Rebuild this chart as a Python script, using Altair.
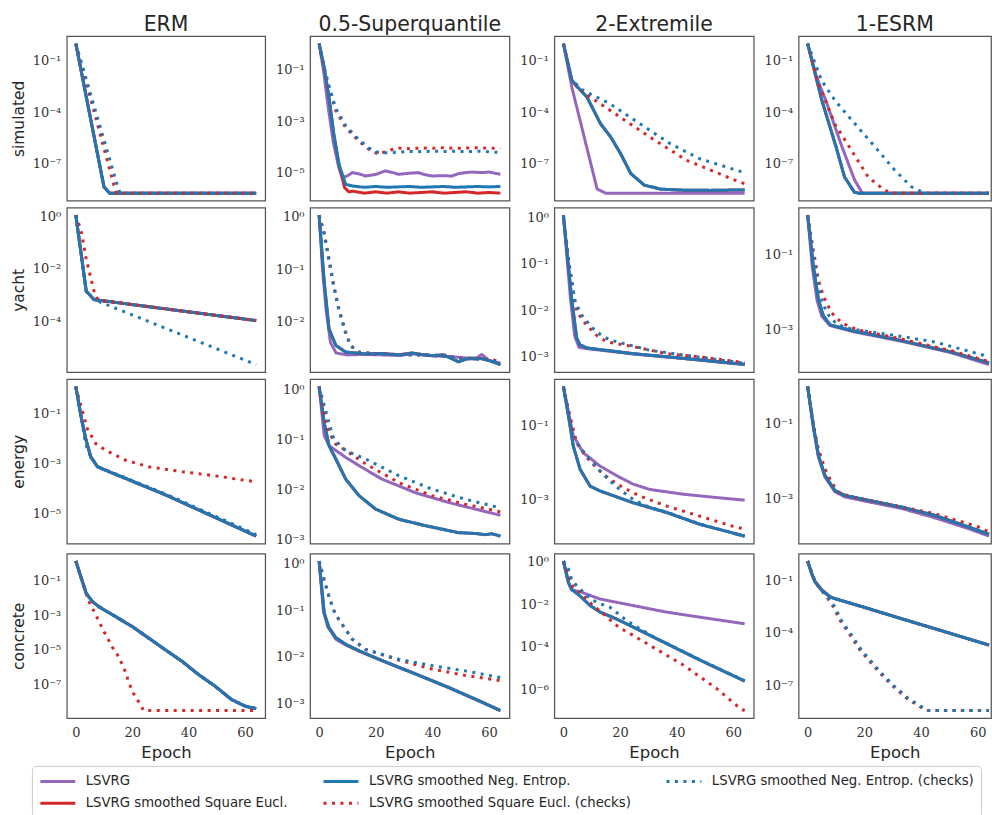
import altair as alt
import numpy as np
import pandas as pd

# ---------------- labels ----------------
COLUMN_TITLES = ["ERM", "0.5-Superquantile", "2-Extremile", "1-ESRM"]
ROW_TITLES = ["simulated", "yacht", "energy", "concrete"]

# series keys in drawing order and their legend names
DRAW_KEYS = ["lsvrg", "sq", "ne", "sq_chk", "ne_chk"]
SERIES_NAMES = {
    "lsvrg": "LSVRG",
    "sq": "LSVRG smoothed Square Eucl.",
    "ne": "LSVRG smoothed Neg. Entrop.",
    "sq_chk": "LSVRG smoothed Square Eucl. (checks)",
    "ne_chk": "LSVRG smoothed Neg. Entrop. (checks)",
}
# legend order (row-major, 3 columns)
LEGEND_ORDER = [
    "LSVRG",
    "LSVRG smoothed Neg. Entrop.",
    "LSVRG smoothed Neg. Entrop. (checks)",
    "LSVRG smoothed Square Eucl.",
    "LSVRG smoothed Square Eucl. (checks)",
]
LEGEND_COLORS = ["#9467bd", "#1f77b4", "#1f77b4", "#d62728", "#d62728"]
LEGEND_DASHES = [[1, 0], [1, 0], [3, 5.5], [1, 0], [3, 5.5]]

X_TICKS = [0, 20, 40, 60]

# ---------------- data: [epoch, suboptimality] ----------------
# simulated
sim_erm_solid = [[0, 1.0], [10, 4.6e-9], [12, 2.0e-9], [64, 2.0e-9]]
sim_erm_sq_chk = [[0, 1.0], [13.5, 5.8e-9], [14.5, 2.0e-9], [64, 2.0e-9]]
sim_erm_ne_chk = [[0, 1.0], [14.7, 5.8e-9], [15.7, 2.0e-9], [64, 2.0e-9]]
SIM_ERM = {"lsvrg": sim_erm_solid, "sq": sim_erm_solid, "ne": sim_erm_solid,
           "sq_chk": sim_erm_sq_chk, "ne_chk": sim_erm_ne_chk}

SIM_SQ = {
    "lsvrg": [[0, 1.0], [1.5, 0.1], [3, 5e-3], [5, 1.5e-4], [7, 1.5e-5], [8.2, 6.4e-6], [10, 7.5e-6],
              [11.7, 1.0e-5], [14, 9e-6], [16.4, 7.4e-6], [20, 8.5e-6], [23.4, 1.17e-5], [26, 1.0e-5],
              [28.1, 8.6e-6], [32, 9.5e-6], [35.1, 1.0e-5], [37, 8.5e-6], [39.8, 7.4e-6], [43, 7.6e-6],
              [46.9, 7.4e-6], [49, 9e-6], [51.6, 1.0e-5], [54, 1.05e-5], [57.4, 1.0e-5], [60, 1.05e-5],
              [64, 8.6e-6]],
    "sq": [[0, 1.0], [1.8, 0.115], [3.5, 7.9e-3], [5.2, 3.0e-4], [7, 2.1e-5], [9, 2.6e-6], [10.5, 1.8e-6],
           [12, 1.9e-6], [16, 1.6e-6], [20, 1.8e-6], [24, 1.6e-6], [28, 1.8e-6], [32, 1.6e-6], [36, 1.7e-6],
           [40, 1.8e-6], [44, 1.6e-6], [48, 1.7e-6], [52, 1.8e-6], [56, 1.6e-6], [60, 1.7e-6], [64, 1.6e-6]],
    "ne": [[0, 1.0], [1.8, 0.115], [3.5, 7.9e-3], [5.2, 3.0e-4], [7, 2.1e-5], [9.4, 3.5e-6], [12, 3.0e-6],
           [16, 2.7e-6], [20, 2.9e-6], [24, 2.7e-6], [28, 2.8e-6], [32, 2.9e-6], [36, 2.7e-6], [40, 2.8e-6],
           [44, 2.9e-6], [48, 2.7e-6], [52, 2.8e-6], [56, 2.9e-6], [60, 2.8e-6], [64, 2.9e-6]],
    "sq_chk": [[0, 1.0], [1.8, 0.1], [3.5, 1.95e-2], [5.9, 2.5e-3], [9.4, 5.5e-4], [14, 1.66e-4],
               [17.6, 7.9e-5], [21, 5.1e-5], [24, 7e-5], [28, 9e-5], [32, 8.5e-5], [36, 9e-5], [40, 8.8e-5],
               [44, 9.2e-5], [48, 8.7e-5], [52, 9e-5], [56, 9.2e-5], [60, 8.8e-5], [64, 9e-5]],
    "ne_chk": [[0, 1.0], [1.8, 0.12], [3.5, 2.3e-2], [5.9, 3.0e-3], [9.4, 6.5e-4], [14, 1.9e-4],
               [17.6, 9e-5], [21, 6e-5], [24, 5.9e-5], [28, 6.2e-5], [32, 6.6e-5], [36, 6.5e-5], [40, 6.8e-5],
               [44, 6.6e-5], [48, 6.8e-5], [52, 6.5e-5], [56, 6.8e-5], [60, 6.4e-5], [64, 6e-5]],
}

sim_ext_ne = [[0, 1.0], [3, 7.4e-3], [4.8, 3.2e-3], [8.3, 7.9e-4], [13.1, 2.2e-5], [16.7, 3.7e-6],
              [20.2, 4e-7], [23.8, 2.75e-8], [28.6, 5.8e-9], [34.5, 3.4e-9], [42.9, 2.95e-9], [52, 2.9e-9],
              [64, 3.1e-9]]
SIM_EXT = {
    "lsvrg": [[0, 1.0], [1.2, 0.1], [3, 2.8e-3], [11.9, 3.5e-9], [14.9, 2.0e-9], [64, 2.0e-9]],
    "sq": sim_ext_ne,
    "ne": sim_ext_ne,
    "sq_chk": [[0, 1.0], [3, 7.4e-3], [5, 2.8e-3], [9.4, 7.9e-4], [20, 5.4e-5], [30.5, 3.7e-6],
               [43.4, 1.66e-7], [62.2, 8.9e-9], [64, 7e-9]],
    "ne_chk": [[0, 1.0], [3, 7.4e-3], [7, 1.9e-3], [16.4, 3.2e-4], [27, 2.2e-5], [37.6, 1.55e-6],
               [48.1, 2.0e-7], [64, 3.1e-8]],
}

sim_esrm_ne = [[0, 1.0], [5, 5e-4], [10, 1e-6], [13, 1.74e-8], [16.5, 2.2e-9], [18, 1.95e-9], [64, 1.95e-9]]
SIM_ESRM = {
    "lsvrg": [[0, 1.0], [3, 1.26e-2], [6.4, 5e-4], [11.7, 1.5e-6], [16.6, 1.1e-8], [19.3, 1.95e-9],
              [64, 1.95e-9]],
    "sq": sim_esrm_ne,
    "ne": sim_esrm_ne,
    "sq_chk": [[0, 1.0], [3.8, 4.4e-3], [9.6, 2.1e-5], [15.5, 5.9e-7], [21.4, 1.66e-8], [27.2, 2.8e-9],
               [30.8, 1.95e-9], [64, 1.95e-9]],
    "ne_chk": [[0, 1.0], [4.9, 7.1e-3], [9.6, 5e-4], [16.6, 2.2e-5], [23.7, 1e-6], [30.7, 4.3e-8],
               [36.6, 4.6e-9], [41.3, 1.95e-9], [64, 1.95e-9]],
}

# yacht
yacht_erm_solid = [[0, 1.1], [3.7, 1.38e-3], [6.5, 6.6e-4], [64, 1.05e-4]]
YACHT_ERM = {
    "lsvrg": yacht_erm_solid, "sq": yacht_erm_solid, "ne": yacht_erm_solid,
    "sq_chk": [[0, 1.1], [1.9, 0.27], [3.6, 2.6e-2], [5.3, 4.5e-3], [6.8, 1.0e-3], [8, 6.3e-4], [64, 1.05e-4]],
    "ne_chk": [[0, 1.1], [3.7, 1.38e-3], [6.5, 6.6e-4], [64, 2.2e-6]],
}

yacht_sq_ne = [[0, 1.07], [1.8, 5.6e-2], [3.5, 7.2e-3], [5.9, 3.5e-3], [9.4, 2.6e-3], [16.4, 2.4e-3],
               [22, 2.45e-3], [28.1, 2.3e-3], [32.8, 2.5e-3], [36, 2.35e-3], [39.8, 2.24e-3], [44, 2.3e-3],
               [49.2, 1.7e-3], [53, 2.0e-3], [57.4, 1.95e-3], [60, 1.8e-3], [64, 1.5e-3]]
YACHT_SQ = {
    "lsvrg": [[0, 1.07], [1.2, 0.1], [2.5, 1.6e-2], [4, 4e-3], [6, 2.5e-3], [10, 2.3e-3], [16, 2.35e-3],
              [22, 2.3e-3], [28, 2.25e-3], [33, 2.4e-3], [40, 2.2e-3], [46, 2.15e-3], [52, 2.0e-3],
              [55, 1.9e-3], [57.4, 2.35e-3], [60, 1.8e-3], [64, 1.6e-3]],
    "sq": yacht_sq_ne,
    "ne": yacht_sq_ne,
    "sq_chk": [[0, 1.07], [1.8, 0.5], [3.5, 0.155], [5.2, 4.8e-2], [7, 1.74e-2], [9.4, 6.3e-3],
               [11.1, 3.5e-3], [14.1, 2.6e-3], [20, 2.45e-3], [28, 2.35e-3], [36, 2.3e-3], [44, 2.2e-3],
               [50, 2.0e-3], [56, 1.95e-3], [60, 1.9e-3], [64, 1.75e-3]],
    "ne_chk": [[0, 1.07], [1.8, 0.45], [3.5, 0.14], [5.2, 4.4e-2], [7, 1.6e-2], [9.4, 5.8e-3],
               [11.1, 3.4e-3], [14.1, 2.6e-3], [20, 2.4e-3], [28, 2.3e-3], [36, 2.3e-3], [44, 2.15e-3],
               [50, 1.95e-3], [56, 1.9e-3], [60, 1.85e-3], [64, 1.65e-3]],
}

yacht_ext_ne = [[0, 1.1], [2.9, 1.8e-2], [4.7, 2.5e-3], [5.9, 1.8e-3], [8.3, 1.55e-3], [24.7, 1.17e-3],
                [42.3, 9.3e-4], [64, 6.9e-4]]
YACHT_EXT = {
    "lsvrg": [[0, 1.1], [2.5, 1.8e-2], [4, 2.8e-3], [5.5, 1.6e-3], [8.3, 1.5e-3], [24.7, 1.15e-3],
              [42.3, 9.2e-4], [64, 6.8e-4]],
    "sq": yacht_ext_ne,
    "ne": yacht_ext_ne,
    "sq_chk": [[0, 1.1], [2.0, 0.1], [4.7, 9.3e-3], [8.2, 4.8e-3], [11.7, 2.9e-3], [15.3, 2.1e-3],
               [18.2, 1.95e-3], [24.6, 1.66e-3], [36.4, 1.17e-3], [48.1, 1.0e-3], [61, 7.9e-4], [64, 7.4e-4]],
    "ne_chk": [[0, 1.1], [2.0, 0.1], [4.1, 1.5e-2], [6.9, 7.2e-3], [10.4, 4.1e-3], [13.4, 2.9e-3],
               [16.4, 2.3e-3], [30.5, 1.38e-3], [42.2, 1.1e-3], [59.8, 7.9e-4], [64, 7.3e-4]],
}

yacht_esrm_ne = [[0, 1.17], [2.0, 4.9e-2], [3.8, 6.3e-3], [5.5, 2.3e-3], [7.9, 1.3e-3], [15.5, 9.1e-4],
                 [33.1, 4.9e-4], [50.7, 2.4e-4], [64, 1.23e-4]]
YACHT_ESRM = {
    "lsvrg": [[0, 1.17], [1.6, 5e-2], [3.3, 6e-3], [5, 2.2e-3], [7.9, 1.25e-3], [15.5, 8.7e-4],
              [33.1, 4.7e-4], [50.7, 2.3e-4], [64, 1.1e-4]],
    "sq": yacht_esrm_ne,
    "ne": yacht_esrm_ne,
    "sq_chk": [[0, 1.17], [2.0, 0.135], [3.8, 2.1e-2], [5.5, 7.8e-3], [8.4, 2.75e-3], [11.9, 1.5e-3],
               [14.8, 1.15e-3], [18.9, 9.1e-4], [33.1, 5.4e-4], [50.7, 2.6e-4], [64, 1.33e-4]],
    "ne_chk": [[0, 1.17], [2.0, 9e-2], [3.8, 1.3e-2], [5.5, 4.5e-3], [7.9, 2.0e-3], [10.8, 1.3e-3],
               [15.5, 1.0e-3], [33.1, 6.3e-4], [44.8, 4.5e-4], [64, 1.8e-4]],
}

# energy
energy_erm_solid = [[0, 1.25], [1.8, 8.5e-2], [3.5, 1e-2], [5.3, 1.86e-3], [7.7, 7.4e-4], [11.8, 4.7e-4],
                    [31.8, 5.5e-5], [64, 1.2e-6]]
ENERGY_ERM = {
    "lsvrg": energy_erm_solid, "sq": energy_erm_solid, "ne": energy_erm_solid,
    "sq_chk": [[0, 1.25], [1.8, 0.21], [4.1, 2.5e-2], [7.1, 6.3e-3], [10.6, 3.4e-3], [17.7, 1.35e-3],
               [25.9, 7.4e-4], [37.7, 4.7e-4], [49.5, 3.2e-4], [60.1, 2.1e-4], [64, 1.86e-4]],
    "ne_chk": [[0, 1.25], [1.8, 8.5e-2], [3.5, 6e-3], [5.3, 1.9e-3], [7.7, 7.6e-4], [11.8, 4.9e-4],
               [31.8, 6e-5], [64, 1.4e-6]],
}

energy_sq_ne = [[0, 1.12], [1.8, 0.21], [3.5, 7.4e-2], [5.9, 4e-2], [9.4, 1.58e-2], [14.1, 7.4e-3],
                [19.9, 4e-3], [28.1, 2.5e-3], [37.5, 1.86e-3], [49.2, 1.35e-3], [55, 1.3e-3], [58.6, 1.23e-3],
                [61, 1.28e-3], [64, 1.15e-3]]
ENERGY_SQ = {
    "lsvrg": [[0, 1.12], [1.8, 0.117], [3.5, 7.4e-2], [9.4, 4.3e-2], [15.2, 2.7e-2], [22.2, 1.58e-2],
              [33.9, 8.5e-3], [45.7, 5.4e-3], [64, 3.0e-3]],
    "sq": energy_sq_ne,
    "ne": energy_sq_ne,
    "sq_chk": [[0, 1.12], [1.8, 0.3], [3.5, 0.135], [5.9, 7.9e-2], [9.4, 5.9e-2], [16.4, 3.2e-2],
               [28.1, 1.35e-2], [39.8, 7.4e-3], [51.5, 5e-3], [59.7, 4e-3], [64, 3.5e-3]],
    "ne_chk": [[0, 1.12], [1.8, 0.47], [3.5, 0.21], [5.2, 0.1], [9.4, 5.9e-2], [16.4, 4e-2],
               [28.1, 1.86e-2], [39.8, 1e-2], [51.5, 6.3e-3], [64, 4.2e-3]],
}

energy_ext_ne = [[0, 1.17], [1.8, 0.186], [3.5, 2.8e-2], [5.9, 6.6e-3], [9.4, 2.3e-3], [12.9, 1.7e-3],
                 [24.6, 8.1e-4], [36.4, 4.4e-4], [48.1, 2.1e-4], [64, 1e-4]]
ENERGY_EXT = {
    "lsvrg": [[0, 1.17], [1.8, 0.23], [3.5, 5.4e-2], [7, 1.86e-2], [12.9, 8.1e-3], [18.8, 4.4e-3],
              [24.6, 2.6e-3], [30.5, 1.86e-3], [42.3, 1.38e-3], [54, 1.12e-3], [64, 9.5e-4]],
    "sq": energy_ext_ne,
    "ne": energy_ext_ne,
    "sq_chk": [[0, 1.17], [2.3, 0.186], [4.7, 3.5e-2], [8.2, 1.38e-2], [11.7, 7.2e-3], [16.4, 3.5e-3],
               [21.1, 2.1e-3], [27, 1.23e-3], [36.4, 6.6e-4], [48.1, 3.5e-4], [59.8, 1.86e-4], [64, 1.55e-4]],
    "ne_chk": [[0, 1.17], [1.8, 0.186], [3.5, 4.4e-2], [5.9, 2.6e-2], [9.4, 1.23e-2], [12.9, 5.9e-3],
               [16.4, 3.2e-3], [19.9, 1.86e-3], [24.6, 1e-3], [30.5, 6e-4], [36.4, 4.5e-4], [48.1, 2.15e-4],
               [64, 1e-4]],
}

energy_esrm_ne = [[0, 1.0], [2.0, 9.1e-2], [3.8, 1.45e-2], [6.1, 4.2e-3], [9.6, 1.66e-3], [13.1, 1.23e-3],
                  [21.4, 9.1e-4], [33.1, 6e-4], [44.8, 3.6e-4], [56.6, 1.78e-4], [64, 1.12e-4]]
ENERGY_ESRM = {
    "lsvrg": [[0, 1.0], [2.0, 8e-2], [3.8, 1.3e-2], [6.1, 3.8e-3], [9.6, 1.55e-3], [13.1, 1.12e-3],
              [21.4, 8.3e-4], [33.1, 5.5e-4], [44.8, 3.1e-4], [56.6, 1.6e-4], [64, 1.0e-4]],
    "sq": energy_esrm_ne,
    "ne": energy_esrm_ne,
    "sq_chk": [[0, 1.0], [2.0, 0.1], [3.8, 2.1e-2], [6.1, 6.3e-3], [8.4, 2.8e-3], [10.8, 1.5e-3],
               [15.5, 1.12e-3], [27.2, 7.4e-4], [44.8, 4e-4], [60.1, 1.78e-4], [64, 1.3e-4]],
    "ne_chk": energy_esrm_ne,
}

# concrete
concrete_erm_solid = [[0, 1.25], [1.8, 0.155], [3.7, 1.74e-2], [5.9, 5.9e-3], [8.2, 3.0e-3], [14.1, 8.1e-4],
                      [20, 2.2e-4], [25.9, 4.7e-5], [31.8, 1e-5], [37.7, 2.2e-6], [43.6, 3.8e-7],
                      [49.5, 8.1e-8], [55.3, 1.4e-8], [60.1, 5.9e-9], [64, 4.3e-9]]
CONCRETE_ERM = {
    "lsvrg": concrete_erm_solid, "sq": concrete_erm_solid, "ne": concrete_erm_solid,
    "sq_chk": [[0, 1.25], [2, 0.12], [3.5, 2e-2], [5, 4.5e-3], [6.5, 1.58e-3], [8.2, 4.3e-4], [10.6, 7.4e-5],
               [13.5, 1.0e-5], [14.7, 5.5e-6], [16.5, 1.48e-6], [17.7, 5e-7], [18.8, 1.35e-7], [20.6, 2.9e-8],
               [22.4, 9.8e-9], [24.1, 3.3e-9], [64, 3.3e-9]],
    "ne_chk": concrete_erm_solid,
}

concrete_sq_ne = [[0, 1.15], [1.8, 8.7e-2], [3.5, 4.2e-2], [5.9, 2.6e-2], [9.4, 1.86e-2], [14.1, 1.35e-2],
                  [22.3, 8.3e-3], [34, 4.3e-3], [45.7, 2.2e-3], [57.4, 1.07e-3], [64, 7e-4]]
CONCRETE_SQ = {
    "lsvrg": [[0, 1.15], [1.5, 0.1], [3, 4.5e-2], [5.9, 2.4e-2], [9.4, 1.8e-2], [14.1, 1.33e-2],
              [22.3, 8.2e-3], [34, 4.3e-3], [45.7, 2.2e-3], [57.4, 1.07e-3], [64, 7e-4]],
    "sq": concrete_sq_ne,
    "ne": concrete_sq_ne,
    "sq_chk": [[0, 1.15], [1.8, 0.45], [3.5, 0.195], [5.2, 0.1], [7, 6.3e-2], [11.7, 2.4e-2], [16.4, 1.45e-2],
               [28.1, 8.5e-3], [39.8, 5.5e-3], [51.5, 4e-3], [64, 3.1e-3]],
    "ne_chk": [[0, 1.15], [1.8, 0.45], [3.5, 0.195], [5.2, 0.1], [7, 6.3e-2], [11.7, 2.4e-2], [16.4, 1.45e-2],
               [28.1, 8.9e-3], [39.8, 6.5e-3], [51.5, 5e-3], [64, 3.6e-3]],
}

concrete_ext_ne = [[0, 1.0], [1.8, 0.1], [2.9, 4.9e-2], [6.5, 2.0e-2], [9.4, 8.5e-3], [13, 4.2e-3],
                   [18.8, 2.0e-3], [24.6, 8.5e-4], [36.4, 1.45e-4], [48.1, 2.5e-5], [64, 2.6e-6]]
CONCRETE_EXT = {
    "lsvrg": [[0, 1.0], [1.8, 0.1], [2.9, 4.5e-2], [6.5, 3.5e-2], [13, 1.7e-2], [24.6, 8.5e-3],
              [36.4, 4.2e-3], [48.1, 2.45e-3], [64, 1.2e-3]],
    "sq": concrete_ext_ne,
    "ne": concrete_ext_ne,
    "sq_chk": [[0, 1.0], [1.8, 0.25], [3.5, 6e-2], [5.9, 3.5e-2], [10, 1e-2], [14.7, 3e-3], [19.4, 8.5e-4],
               [24.6, 3.5e-4], [30.5, 1.2e-4], [36.4, 4.2e-5], [42.3, 1.45e-5], [48.1, 4.2e-6], [54, 1.2e-6],
               [62.2, 1.45e-7], [64, 1.1e-7]],
    "ne_chk": [[0, 1.0], [1.8, 0.42], [2.9, 0.14], [4.7, 7.1e-2], [8.2, 2.5e-2], [11.7, 1.2e-2],
               [16.4, 7.1e-3], [22.3, 1.74e-3], [27, 7.1e-4], [32.9, 2.45e-4], [36.4, 1.5e-4], [48.1, 2.6e-5],
               [64, 2.7e-6]],
}

concrete_esrm_ne = [[0, 1.25], [1.4, 0.24], [2.6, 7.9e-2], [4.9, 2.7e-2], [7.9, 1.12e-2], [9.6, 8.9e-3],
                    [21.4, 2.4e-3], [33.1, 6.3e-4], [44.8, 1.7e-4], [64, 1.95e-5]]
CONCRETE_ESRM = {
    "lsvrg": [[0, 1.25], [1.4, 0.26], [2.6, 9e-2], [4.9, 3e-2], [7.9, 1.15e-2], [9.6, 8.9e-3],
              [21.4, 2.4e-3], [33.1, 6.3e-4], [44.8, 1.7e-4], [64, 1.95e-5]],
    "sq": concrete_esrm_ne,
    "ne": concrete_esrm_ne,
    "sq_chk": [[0, 1.25], [2.6, 7.9e-2], [4.9, 2.7e-2], [7.5, 7.2e-3], [9.1, 3e-3], [11.4, 5.1e-4],
               [15, 7.2e-5], [18.5, 1e-5], [22, 2.2e-6], [25.6, 4.7e-7], [30.3, 8.1e-8], [35, 1.74e-8],
               [39.6, 5.9e-9], [42, 3.5e-9], [64, 3.5e-9]],
    "ne_chk": [[0, 1.25], [2.6, 7.9e-2], [4.9, 2.7e-2], [7.9, 7.2e-3], [9.6, 3e-3], [11.9, 5.1e-4],
               [15.5, 7.2e-5], [19, 1e-5], [22.5, 2.2e-6], [26.1, 4.7e-7], [30.8, 8.1e-8], [35.5, 1.74e-8],
               [40.1, 5.9e-9], [42.5, 3.5e-9], [64, 3.5e-9]],
}

PANELS = [
    [SIM_ERM, SIM_SQ, SIM_EXT, SIM_ESRM],
    [YACHT_ERM, YACHT_SQ, YACHT_EXT, YACHT_ESRM],
    [ENERGY_ERM, ENERGY_SQ, ENERGY_EXT, ENERGY_ESRM],
    [CONCRETE_ERM, CONCRETE_SQ, CONCRETE_EXT, CONCRETE_ESRM],
]

Y_TICKS = [
    [[1e-1, 1e-4, 1e-7], [1e-1, 1e-3, 1e-5], [1e-1, 1e-4, 1e-7], [1e-1, 1e-4, 1e-7]],
    [[1e0, 1e-2, 1e-4], [1e0, 1e-1, 1e-2], [1e0, 1e-1, 1e-2, 1e-3], [1e-1, 1e-3]],
    [[1e-1, 1e-3, 1e-5], [1e0, 1e-1, 1e-2, 1e-3], [1e-1, 1e-3], [1e-1, 1e-3]],
    [[1e-1, 1e-3, 1e-5, 1e-7], [1e0, 1e-1, 1e-2, 1e-3], [1e0, 1e-2, 1e-4, 1e-6], [1e-1, 1e-4, 1e-7]],
]

# ---------------- layout ----------------
COL_WIDTHS = [199, 200, 200, 193]
X_DOMAINS = [[-3.2, 67.2], [-3.2, 67.2], [-3.2, 67.2], [-3.2, 64.7]]
PANEL_H = 165

SANS = "DejaVu Sans"
SERIF = "DejaVu Serif"

EXP = "round(log(datum.value) / LN10)"
LABEL_EXPR = ("'10' + (" + EXP + " < 0 ? '\u207b' : '') + "
              "substring('\u2070\u00b9\u00b2\u00b3\u2074\u2075\u2076\u2077\u2078\u2079', abs(" + EXP + "), abs(" + EXP + ") + 1)")

color_scale = alt.Scale(domain=LEGEND_ORDER, range=LEGEND_COLORS)
dash_scale = alt.Scale(domain=LEGEND_ORDER, range=LEGEND_DASHES)


def log_domain(panel):
    vals = [p[1] for key in DRAW_KEYS for p in panel[key]]
    lo, hi = min(vals), max(vals)
    span = np.log10(hi / lo)
    return [float(lo * 10 ** (-0.05 * span)), float(hi * 10 ** (0.05 * span))]


def make_panel(r, c):
    panel = PANELS[r][c]
    ydom = log_domain(panel)
    y_axis = alt.Axis(values=Y_TICKS[r][c], labelExpr=LABEL_EXPR,
                      title=ROW_TITLES[r] if c == 0 else None,
                      titleFontSize=15.5, titlePadding=4,
                      minExtent=36, maxExtent=36, labelPadding=6)
    if r == 3:
        x_axis = alt.Axis(values=X_TICKS, title="Epoch", format="d", labelPadding=8,
                          titleFontSize=16.5, titlePadding=6, labelFlush=False)
    else:
        x_axis = None
    layers = []
    for key in DRAW_KEYS:
        pts = panel[key]
        df = pd.DataFrame({
            "epoch": [p[0] for p in pts],
            "value": [p[1] for p in pts],
            "series": SERIES_NAMES[key],
        })
        layers.append(
            alt.Chart(df).mark_line(strokeWidth=3, clip=True, strokeJoin="round").encode(
                x=alt.X("epoch:Q", scale=alt.Scale(domain=X_DOMAINS[c], nice=False, zero=False), axis=x_axis),
                y=alt.Y("value:Q", scale=alt.Scale(type="log", domain=ydom, nice=False), axis=y_axis),
                color=alt.Color("series:N", scale=color_scale, legend=alt.Legend(title=None)),
                strokeDash=alt.StrokeDash("series:N", scale=dash_scale, legend=alt.Legend(title=None)),
            )
        )
    ch = alt.layer(*layers).properties(width=COL_WIDTHS[c], height=PANEL_H)
    if r == 0:
        ch = ch.properties(title=alt.TitleParams(text=COLUMN_TITLES[c], fontSize=20.5, font=SANS,
                                                 fontWeight="normal", color="#262626", offset=1,
                                                 anchor="middle"))
    return ch


rows = []
for r in range(4):
    rows.append(alt.hconcat(*[make_panel(r, c) for c in range(4)], spacing=7)
                .resolve_scale(x="independent", y="independent"))

chart = (
    alt.vconcat(*rows, spacing=5)
    .resolve_scale(x="independent", y="independent")
    .properties(padding={"left": 11, "top": 12, "right": 0, "bottom": 0}, background="white")
    .configure_view(stroke="#555555", strokeWidth=1.25)
    .configure_axis(grid=False, ticks=False, domain=False, labelFont=SERIF, labelFontSize=13,
                    labelColor="#333333", titleFont=SANS, titleFontWeight="normal", titleColor="#262626")
    .configure_legend(orient="none", legendX=-35, legendY=732, columns=3, direction="horizontal",
                      gridAlign="each", columnPadding=29, rowPadding=7, padding=7,
                      strokeColor="#cccccc", cornerRadius=4, fillColor="white",
                      symbolType="M-1,0H4", symbolSize=196, symbolStrokeWidth=3,
                      labelFont=SANS, labelFontSize=13.3, labelColor="#262626", labelOffset=30,
                      labelLimit=400)
)

chart.save("out.html", embed_options={"renderer": "svg", "actions": False})
